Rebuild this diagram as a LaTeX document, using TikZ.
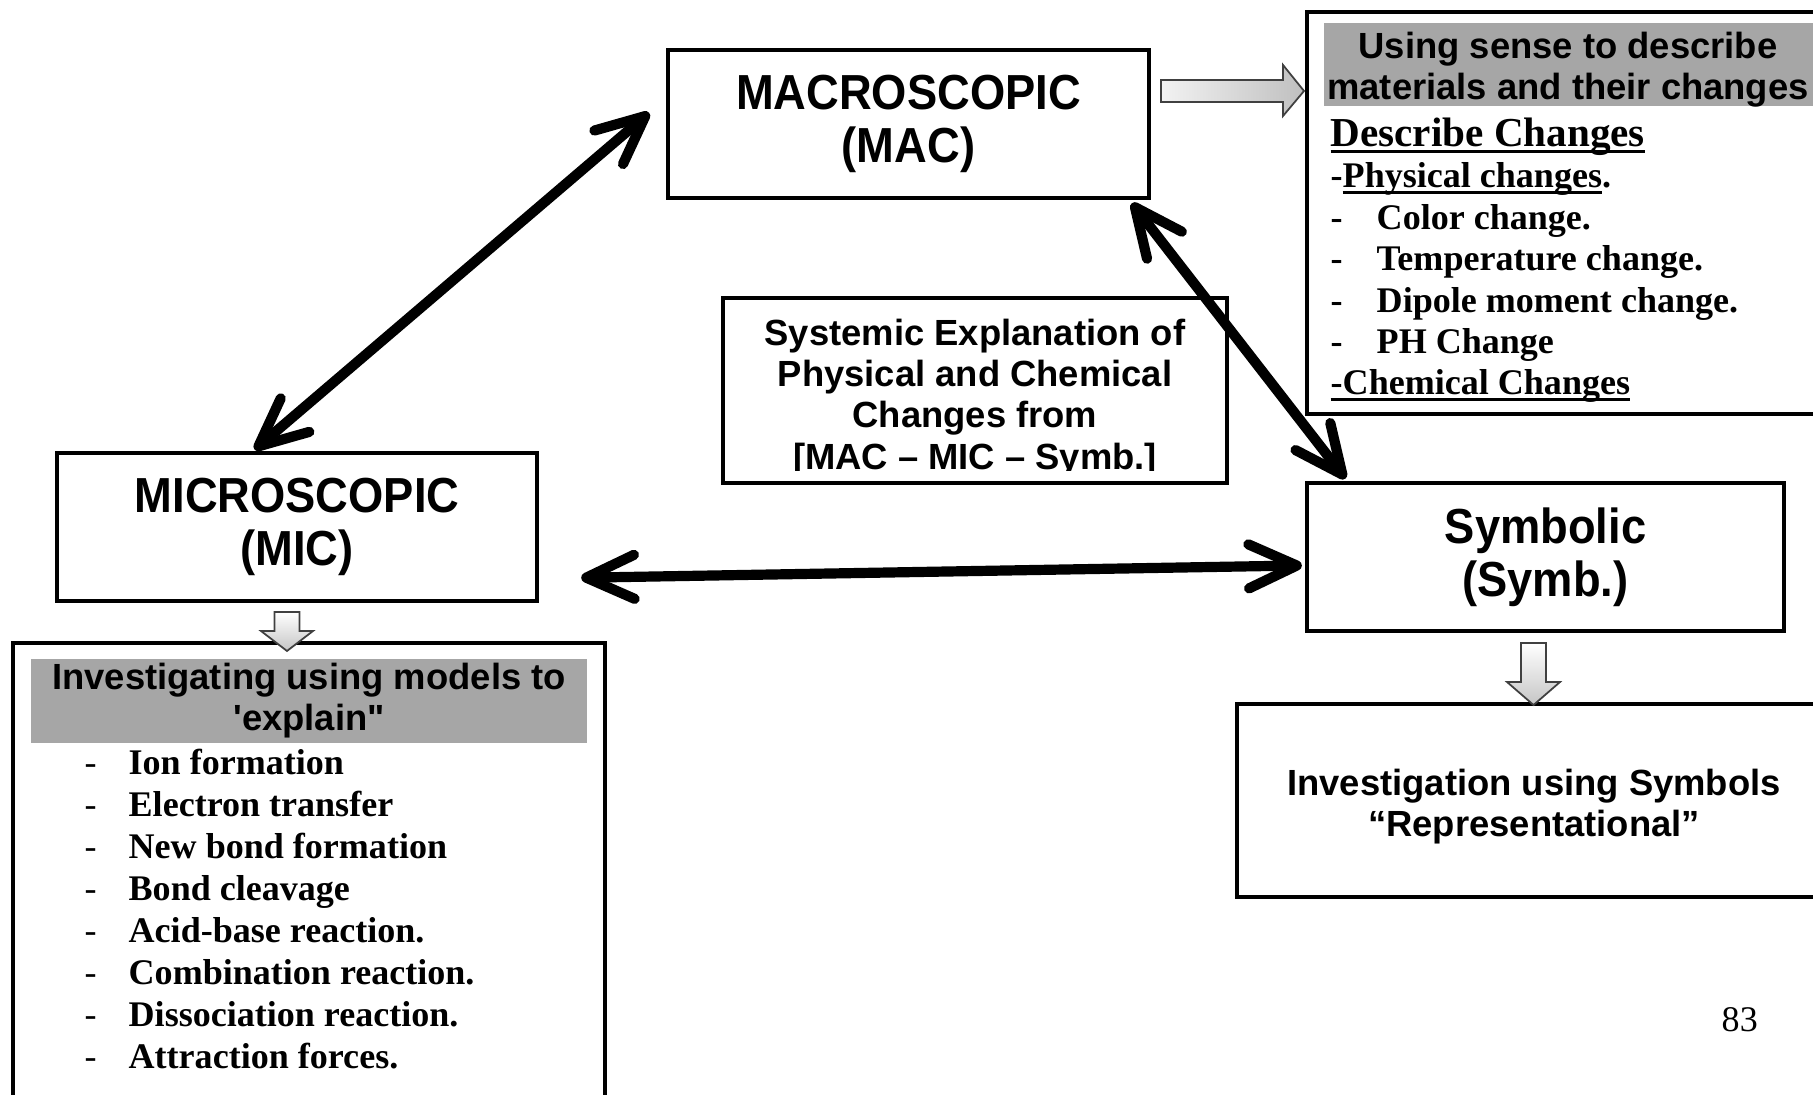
\documentclass[tikz,border=0pt]{standalone}
\usepackage{fontspec}
\setmainfont{Liberation Serif}
\newfontfamily\arialbf{Liberation Sans}
\newfontfamily\arialnarrow[FakeStretch=0.92]{Liberation Sans}
\usepackage{tikz}
\usetikzlibrary{arrows.meta}
\definecolor{hdrgray}{gray}{0.65}
\newcommand{\undl}[1]{\setbox0=\hbox{#1}\rlap{\rule[-0.16em]{\wd0}{0.07em}}\box0}
\tikzset{
  box/.style={draw, line width=1.15pt, inner sep=0pt},
  hdr/.style={fill=hdrgray, inner sep=0pt},
  bigtxt/.style={font=\arialnarrow\bfseries\fontsize{14}{15.1}\selectfont, align=center, inner sep=0pt},
  midtxt/.style={font=\arialbf\bfseries\fontsize{10.35}{11.7}\selectfont, align=center, inner sep=0pt},
  item/.style={font=\bfseries\fontsize{10.25}{11.8}\selectfont, anchor=base west, inner sep=0pt},
  link/.style={line width=2.9pt, line cap=round, line join=round,
    {Straight Barb[length=4.8mm,width=4.4mm,round]}-{Straight Barb[length=4.8mm,width=4.4mm,round]}},
  fatarrow/.style={draw=black!75, line width=0.5pt}
}

\begin{document}
\begin{tikzpicture}[x=0.01cm,y=-0.01cm]
\useasboundingbox (0,0) rectangle (1813,1095);

% the three levels
\node[box, minimum width=4.81cm, minimum height=1.48cm, bigtxt] (mac) at (908.5,124) {MACROSCOPIC\\(MAC)};
\node[box, minimum width=4.80cm, minimum height=1.48cm, bigtxt] (mic) at (297,527) {MICROSCOPIC\\(MIC)};
\node[box, minimum width=4.77cm, minimum height=1.48cm, bigtxt] (symb) at (1545.5,557) {Symbolic\\(Symb.)};

\node[box, minimum width=5.04cm, minimum height=1.85cm] (sys) at (975,390.5) {};
\begin{scope}
  \clip (sys.north west) rectangle (1227,471);
  \node[midtxt] (sysTxt) at (975,398) {Systemic Explanation of\\Physical and Chemical\\Changes from\\{[MAC \textendash{} MIC \textendash{} Symb.]}};
\end{scope}

% senses box
\node[box, minimum width=5.23cm, minimum height=4.02cm] (sense) at (1568.5,213) {};
\node[hdr, minimum width=4.89cm, minimum height=0.83cm] (senseHdr) at (1568.5,64.5) {};
\node[midtxt] (senseTxt) at (1568,69.5) {Using sense to describe\\materials and their changes};
\node[item, font=\bfseries\fontsize{11.7}{14}\selectfont] (descr) at (1330,146.5) {\undl{Describe Changes}};
\node[item] (phys) at (1330,188) {-\undl{Physical changes}.};
\foreach \txt [count=\i] in {Color change., Temperature change., Dipole moment change., PH Change}{
  \node[item] (snsDash\i) at (1330,{188+41.5*\i}) {-};
  \node[item] (sns\i) at (1376,{188+41.5*\i}) {\txt};
}
\node[item] (chem) at (1330,395) {\undl{-Chemical Changes}};

% models box
\node[box, minimum width=5.92cm, minimum height=4.67cm] (models) at (309,876.5) {};
\node[hdr, minimum width=5.56cm, minimum height=0.84cm, midtxt] (modelsHdr) at (309,701) {Investigating using models to\\\textquotesingle explain"};
\foreach \txt [count=\i] in {Ion formation, Electron transfer, New bond formation, Bond cleavage, Acid-base reaction., Combination reaction., Dissociation reaction., Attraction forces.}{
  \node[item, font=\fontsize{10.25}{11.8}\selectfont] (mdlDash\i) at (84,{774+42*(\i-1)}) {-};
  \node[item] (mdl\i) at (128,{774+42*(\i-1)}) {\txt};
}

% symbols box
\node[box, minimum width=5.93cm, minimum height=1.93cm] (invsym) at (1533.5,800.5) {};
\node[midtxt] (invsymTxt) at (1534,807) {Investigation using Symbols\\“Representational”};

% links between the levels
\draw[link, shorten <=0.22cm, shorten >=0.02cm] (mac.174) -- (mic.120);
\draw[link, shorten <=0.04cm, shorten >=0.03cm] (mac.-19) -- (symb.159);
\draw[link, shorten <=0.42cm, shorten >=0.03cm] (mic.-12) -- (symb.182);

% block arrows
\draw[fatarrow, left color=gray!10, right color=gray!50] (1161,80) -- (1283,80) -- (1283,65) -- (1304,91) -- (1283,116) -- (1283,102) -- (1161,102) -- cycle;
\draw[fatarrow, top color=white, bottom color=gray!45] (274.5,612) -- (299.5,612) -- (299.5,631) -- (313,631) -- (287,651) -- (261,631) -- (274.5,631) -- cycle;
\draw[fatarrow, top color=white, bottom color=gray!45] (1521,643) -- (1546,643) -- (1546,682) -- (1560,682) -- (1533.5,705) -- (1507,682) -- (1521,682) -- cycle;

\node[anchor=base west, inner sep=0pt, font=\fontsize{10.25}{12}\selectfont] (pageno) at (1721,1031) {83};
\end{tikzpicture}
\end{document}
